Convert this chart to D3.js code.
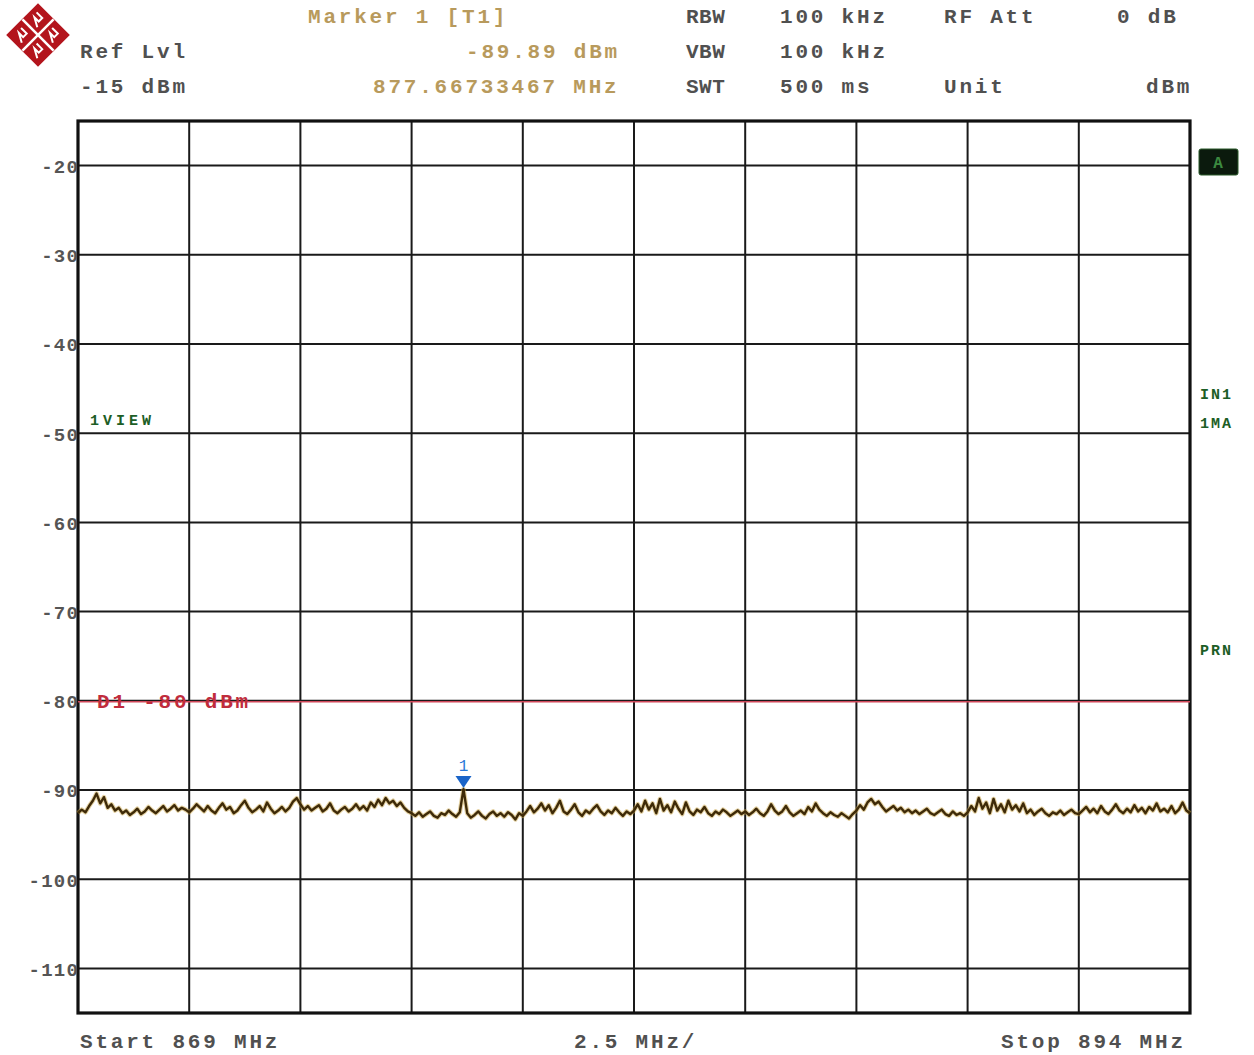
<!DOCTYPE html>
<html><head><meta charset="utf-8">
<script src="https://cdn.jsdelivr.net/npm/d3@7"></script>
<style>
html,body{margin:0;padding:0;background:#fff;}
svg{display:block;}
text{font-family:"Liberation Mono","DejaVu Sans Mono",monospace;}
</style></head>
<body>
<script>
// ---------------- data ----------------
const startFreq = 869;      // MHz
const stopFreq = 894;       // MHz
const refLevel = -15;       // dBm
const bottomLevel = -115;   // dBm
const yTickValues = [-20,-30,-40,-50,-60,-70,-80,-90,-100,-110];
const xGridValues = [869,871.5,874,876.5,879,881.5,884,886.5,889,891.5,894];
const displayLine = -80;    // D1
const markerFreq = 877.66733467;
const markerLevel = -89.89;
const traceValues = [
 -92.6,-92.2,-92.5,-91.8,-91.2,-90.4,-91.5,-90.8,-92.0,-91.6,-92.3,-92.0,-92.6,-92.3,-92.8,-92.5,-92.1,-92.7,-92.4,-91.9,-92.3,-92.6,-92.2,-91.8,-92.4,-92.1,-91.7,-92.3,-92.0,-92.2,
 -92.5,-92.1,-91.6,-92.0,-92.4,-91.8,-92.3,-92.6,-92.0,-91.5,-92.2,-91.9,-92.6,-92.3,-91.7,-91.2,-92.0,-92.5,-92.2,-91.8,-92.4,-91.4,-92.1,-92.6,-92.3,-91.9,-92.4,-92.0,-91.3,-90.9,
 -91.6,-92.2,-91.8,-92.3,-92.0,-91.7,-92.4,-92.1,-91.5,-92.3,-92.6,-92.2,-91.9,-92.4,-92.1,-91.6,-92.2,-91.8,-92.3,-91.4,-91.9,-91.1,-91.7,-90.9,-91.5,-91.2,-91.8,-91.4,-92.0,-92.4,
 -92.6,-92.9,-92.5,-93.0,-92.7,-92.4,-92.9,-93.1,-92.6,-92.8,-92.3,-92.7,-93.0,-92.5,-89.9,-92.6,-93.1,-92.8,-92.4,-92.9,-93.2,-92.7,-92.4,-92.9,-92.6,-93.0,-92.5,-92.8,-93.3,-92.6,
 -92.9,-92.4,-91.8,-92.5,-92.1,-91.5,-92.3,-91.7,-92.6,-92.0,-91.2,-92.4,-92.7,-92.2,-91.6,-92.5,-92.9,-92.3,-92.6,-92.1,-91.7,-92.4,-92.8,-92.3,-92.6,-92.0,-92.5,-92.9,-92.4,-92.7,
 -92.3,-91.6,-92.4,-91.2,-92.2,-91.5,-92.6,-91.0,-92.3,-91.7,-92.5,-91.3,-92.1,-92.7,-91.4,-92.4,-92.8,-92.2,-92.5,-91.9,-92.6,-92.9,-92.4,-92.7,-92.2,-92.5,-92.9,-92.6,-92.3,-92.7,
 -92.4,-92.8,-92.5,-92.1,-92.6,-92.9,-92.4,-91.6,-92.3,-92.7,-92.4,-91.8,-92.5,-92.9,-92.6,-92.3,-92.7,-91.9,-92.4,-91.5,-92.2,-92.6,-92.9,-92.5,-92.8,-93.0,-92.6,-92.9,-93.2,-92.7,
 -92.3,-91.7,-92.2,-91.4,-91.0,-91.6,-91.3,-91.9,-92.4,-92.1,-91.8,-92.3,-92.0,-92.5,-92.2,-92.6,-92.3,-92.7,-92.4,-92.1,-92.6,-92.8,-92.5,-92.2,-92.7,-92.9,-92.4,-92.8,-92.6,-92.9,
 -92.5,-91.8,-92.4,-90.9,-92.1,-91.4,-92.6,-91.0,-92.3,-91.6,-92.5,-91.2,-92.2,-91.7,-92.4,-91.5,-92.6,-92.2,-92.8,-92.4,-92.1,-92.6,-92.9,-92.5,-92.7,-92.3,-92.8,-92.5,-92.2,-92.6,
 -92.7,-92.3,-91.9,-92.5,-92.1,-92.6,-91.8,-92.4,-92.7,-92.2,-91.6,-92.3,-92.6,-92.1,-92.5,-91.7,-92.4,-92.0,-92.6,-91.9,-92.3,-91.5,-92.4,-92.1,-92.5,-91.8,-92.6,-92.2,-91.4,-92.3,-92.6
];

// ---------------- layout ----------------
const W = 1254, H = 1055;
const svg = d3.select("body").append("svg").attr("width", W).attr("height", H);
svg.append("rect").attr("width", W).attr("height", H).attr("fill", "#fff");

const x = d3.scaleLinear().domain([startFreq, stopFreq]).range([78, 1190]);
const y = d3.scaleLinear().domain([bottomLevel, refLevel]).range([1013, 121]);
const step = (stopFreq - startFreq) / (traceValues.length - 1);
const trace = traceValues.map((v, i) => [startFreq + i * step, v]);

const gray = "#505050";
const gold = "#b89a5c";

function txt(s, tx, ty, opts = {}) {
  return svg.append("text").attr("x", tx).attr("y", ty)
    .attr("font-size", opts.size || 21)
    .attr("letter-spacing", opts.ls != null ? opts.ls : 2.8)
    .attr("fill", opts.fill || gray)
    .attr("font-weight", opts.weight || "bold")
    .attr("text-anchor", opts.anchor || "start")
    .text(s);
}
txt("Ref Lvl", 80, 58);
txt("-15 dBm", 80, 93);
txt("Marker 1 [T1]", 308, 23, {fill: gold});
txt("-89.89 dBm", 466, 58, {fill: gold});
txt("877.66733467 MHz", 373, 93, {fill: gold});
txt("RBW", 686, 23, {ls: 0.5});
txt("100 kHz", 780, 23);
txt("RF Att", 944, 23);
txt("0 dB", 1117, 23);
txt("VBW", 686, 58, {ls: 0.5});
txt("100 kHz", 780, 58);
txt("SWT", 686, 93, {ls: 0.5});
txt("500 ms", 780, 93);
txt("Unit", 944, 93);
txt("dBm", 1146, 93);

// logo (R&S style diamond)
const logo = svg.append("g").attr("transform", "translate(38,35) rotate(45)");
logo.append("rect").attr("x", -22.5).attr("y", -22.5).attr("width", 45).attr("height", 45).attr("fill", "#b3141c");
logo.append("line").attr("x1", 0).attr("y1", -22).attr("x2", 0).attr("y2", 22).attr("stroke", "#fff").attr("stroke-width", 2.5);
logo.append("line").attr("x1", -22).attr("y1", 0).attr("x2", 22).attr("y2", 0).attr("stroke", "#fff").attr("stroke-width", 2.5);
[[-11,-11],[11,-11],[-11,11],[11,11]].forEach(([cx, cy]) => {
  logo.append("path").attr("d", `M${cx-6},${cy-4} L${cx+2},${cy-4} L${cx+2},${cy+1} L${cx-4},${cy+1} L${cx+5},${cy+6}`)
    .attr("fill", "none").attr("stroke", "#fff").attr("stroke-width", 2);
});

// grid
const grid = svg.append("g");
grid.selectAll("line.h").data(yTickValues).join("line")
  .attr("x1", x(startFreq)).attr("x2", x(stopFreq))
  .attr("y1", d => y(d)).attr("y2", d => y(d))
  .attr("stroke", "#1a1a1a").attr("stroke-width", 2);
grid.selectAll("line.v").data(xGridValues.slice(1, -1)).join("line")
  .attr("x1", d => x(d)).attr("x2", d => x(d))
  .attr("y1", y(refLevel)).attr("y2", y(bottomLevel))
  .attr("stroke", "#1a1a1a").attr("stroke-width", 2);
svg.append("rect")
  .attr("x", x(startFreq)).attr("y", y(refLevel))
  .attr("width", x(stopFreq) - x(startFreq)).attr("height", y(bottomLevel) - y(refLevel))
  .attr("fill", "none").attr("stroke", "#111").attr("stroke-width", 3.2);

// y-axis labels
const yAxis = d3.axisLeft(y).tickValues(yTickValues).tickSize(0).tickPadding(0).tickFormat(d => d);
const gy = svg.append("g").attr("transform", "translate(79,0)").call(yAxis);
gy.select(".domain").remove();
gy.selectAll("text").attr("font-size", 19).attr("letter-spacing", 1.2).attr("fill", "#555")
  .attr("font-weight", "bold")
  .attr("font-family", "Liberation Mono, monospace").attr("dy", "0.36em");

// display line D1
svg.append("line").attr("x1", x(startFreq)).attr("x2", x(stopFreq))
  .attr("y1", y(displayLine) + 1).attr("y2", y(displayLine) + 1)
  .attr("stroke", "#d0485a").attr("stroke-width", 1.6);
txt("D1 -80 dBm", 97, y(displayLine) + 7, {fill: "#c02c3c"});

// green side labels
svg.append("rect").attr("x", 1199).attr("y", 149).attr("width", 39).attr("height", 26).attr("rx", 2)
  .attr("fill", "#0b1a0d").attr("stroke", "#2a5a2a").attr("stroke-width", 1);
txt("A", 1218, 168, {fill: "#3c8a40", anchor: "middle", size: 16, ls: 0});
const green = "#1d5e26";
txt("IN1", 1200, 399, {fill: green, size: 15, ls: 2});
txt("1MA", 1200, 428, {fill: green, size: 15, ls: 2});
txt("PRN", 1200, 655, {fill: green, size: 15, ls: 2});
txt("1VIEW", 90, 425, {fill: green, size: 15, ls: 4});

// trace
const line = d3.line().x(d => x(d[0])).y(d => y(d[1]));
svg.append("path").datum(trace).attr("d", line).attr("fill", "none")
  .attr("stroke", "#c9a444").attr("stroke-width", 4.5).attr("stroke-opacity", 0.5).attr("stroke-linejoin", "round");
svg.append("path").datum(trace).attr("d", line).attr("fill", "none")
  .attr("stroke", "#3e2a08").attr("stroke-width", 2.4).attr("stroke-linejoin", "round");

// marker
const mx = x(markerFreq), my = y(markerLevel);
svg.append("path").attr("d", `M${mx-8},${my-13} L${mx+8},${my-13} L${mx},${my-1} Z`).attr("fill", "#1a64c8");
svg.append("text").attr("x", mx).attr("y", my - 18).attr("text-anchor", "middle")
  .attr("font-size", 16).attr("fill", "#2a78d8").text("1");

// bottom labels
txt("Start 869 MHz", 80, 1048);
txt("2.5 MHz/", 574, 1048);
txt("Stop 894 MHz", 1001, 1048);
</script>
</body></html>
